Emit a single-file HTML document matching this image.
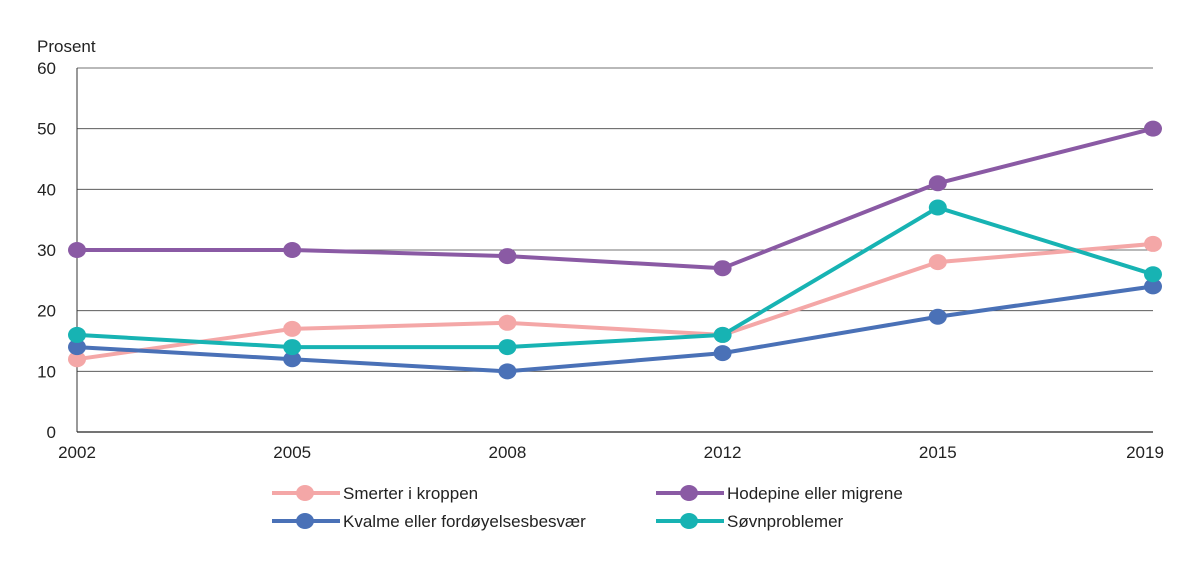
<!DOCTYPE html>
<html><head><meta charset="utf-8"><style>
body{margin:0;background:#fff;}
svg{display:block;font-family:"Liberation Sans",sans-serif;}
</style></head><body>
<svg id="chart" width="1200" height="569"></svg>
<script>
const categories=["2002","2005","2008","2012","2015","2019"];
const yTicks=[0,10,20,30,40,50,60];
const smerter=[12,17,18,16,28,31];
const hodepine=[30,30,29,27,41,50];
const kvalme=[14,12,10,13,19,24];
const sovn=[16,14,14,16,37,26];
const seriesNames=["Smerter i kroppen","Hodepine eller migrene","Kvalme eller fordøyelsesbesvær","Søvnproblemer"];

const NS="http://www.w3.org/2000/svg";
const svg=document.getElementById('chart');
const x0=77,x1=1153,yTop=68,yBot=432;
function xs(i){return x0+(x1-x0)*i/(categories.length-1);}
function ys(v){return yBot-(yBot-yTop)*v/60;}
function mk(tag,attrs,parent){const e=document.createElementNS(NS,tag);for(const k in attrs)e.setAttribute(k,attrs[k]);(parent||svg).appendChild(e);return e;}

const yt=mk('text',{x:37,y:52,'font-size':17,fill:'#222'});


yt.textContent='Prosent';

yTicks.forEach(v=>{
  if(v>0){const g=mk('line',{x1:x0,x2:x1,y1:ys(v),y2:ys(v),stroke:'#444','stroke-width':0.8});
  
  }
  const t=mk('text',{x:56,y:ys(v)+6,'font-size':17,fill:'#222','text-anchor':'end'});
  
  
  t.textContent=v;
});
const ax=mk('line',{x1:x0,x2:x0,y1:yTop,y2:yBot,stroke:'#333','stroke-width':1});


const bx=mk('line',{x1:x0,x2:x1,y1:yBot,y2:yBot,stroke:'#222','stroke-width':1.2});


categories.forEach((c,i)=>{
  let x=xs(i); if(i===categories.length-1)x-=8;
  const t=mk('text',{x:x,y:458,'font-size':17,fill:'#222','text-anchor':'middle'});
  
  
  t.textContent=c;
});

const series=[
 {name:seriesNames[1],data:hodepine,color:'#8a5aa4',id:'hodepine'},
 {name:seriesNames[0],data:smerter,color:'#f4a7a7',id:'smerter'},
 {name:seriesNames[2],data:kvalme,color:'#4a71b7',id:'kvalme'},
 {name:seriesNames[3],data:sovn,color:'#17b3b3',id:'sovn'}
];
series.forEach(s=>{
  const g=mk('g',{});
  
  
  const pl=mk('polyline',{points:s.data.map((v,i)=>xs(i)+','+ys(v)).join(' '),fill:'none',stroke:s.color,'stroke-width':4,'stroke-linejoin':'round'},g);
  
  
  s.data.forEach((v,i)=>{
    const c=mk('ellipse',{cx:xs(i),cy:ys(v),rx:9,ry:8,fill:s.color},g);
    
    
  });
});

const legPos=[[272,493],[656,493],[272,521],[656,521]];
const items=['smerter','hodepine','kvalme','sovn'].map(id=>series.find(s=>s.id===id));
items.forEach((s,k)=>{
  const [lx,ly]=legPos[k];
  const g=mk('g',{});
  
  
  mk('line',{x1:lx,x2:lx+68,y1:ly,y2:ly,stroke:s.color,'stroke-width':4},g);
  mk('ellipse',{cx:lx+33,cy:ly,rx:9,ry:8,fill:s.color},g);
  const t=mk('text',{x:lx+71,y:ly+6,'font-size':17,fill:'#222'},g);
  t.textContent=s.name;
});
</script>
</body></html>
